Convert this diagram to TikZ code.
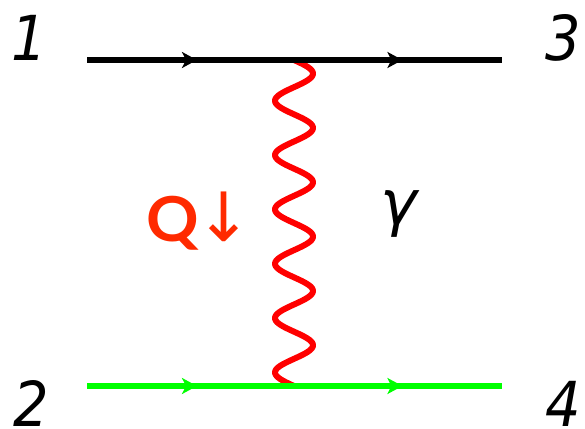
\documentclass[tikz,border=0pt]{standalone}
\usepackage{fontspec}
\setmainfont[FakeStretch=0.9]{DejaVu Sans}
\newfontfamily\gfont{DejaVu Sans}
\newfontfamily\qfont[FakeStretch=1.05]{Lato}
\newfontfamily\arrfont{DejaVu Sans}
\usetikzlibrary{decorations.markings,arrows.meta}
\definecolor{qred}{HTML}{FF2A00}
\definecolor{lgreen}{HTML}{00FF00}
\tikzset{
  x=1pt,y=-1pt,
  lbl/.style={inner sep=0pt,anchor=base,font=\fontsize{62}{62}\selectfont\itshape},
  fermion/.style={line width=6pt,postaction={decorate},decoration={markings,
    mark=at position 0.265 with {\arrow{Stealth[length=15pt,width=16pt,inset=4pt]}},
    mark=at position 0.76 with {\arrow{Stealth[length=15pt,width=16pt,inset=4pt]}}}},
  photon/.style={red,line width=6pt,line join=round},
}
\begin{document}
\begin{tikzpicture}
\useasboundingbox (0,0) rectangle (585,428);
\coordinate (a) at (87,60);
\coordinate (b) at (502,60);
\coordinate (c) at (87,386);
\coordinate (d) at (502,386);
\coordinate (t) at (294,60);
\draw[photon,shift={(t)}] plot[domain=0:326,samples=240,variable=\v] ({19*sin(\v*6.6258)},\v);
\draw[fermion,black] (a) -- (b);
\draw[fermion,lgreen] (c) -- (d);
\node[lbl] (n1) at (29,60) {1};
\node[lbl] (n3) at (563,60) {3};
\node[lbl] (n2) at (31,426) {2};
\node[lbl] (n4) at (563,426) {4};
\node[lbl,font=\fontsize{62}{62}\selectfont\gfont\itshape] (g) at (399,224) {γ};
\node[inner sep=0pt,anchor=base,text=qred,font=\fontsize{62}{62}\selectfont\qfont\bfseries] (q) at (173,241) {Q};
\node[inner sep=0pt,anchor=base,text=qred,font=\fontsize{68}{68}\selectfont\arrfont] (r) at (224,241) {↓};
\end{tikzpicture}
\end{document}
